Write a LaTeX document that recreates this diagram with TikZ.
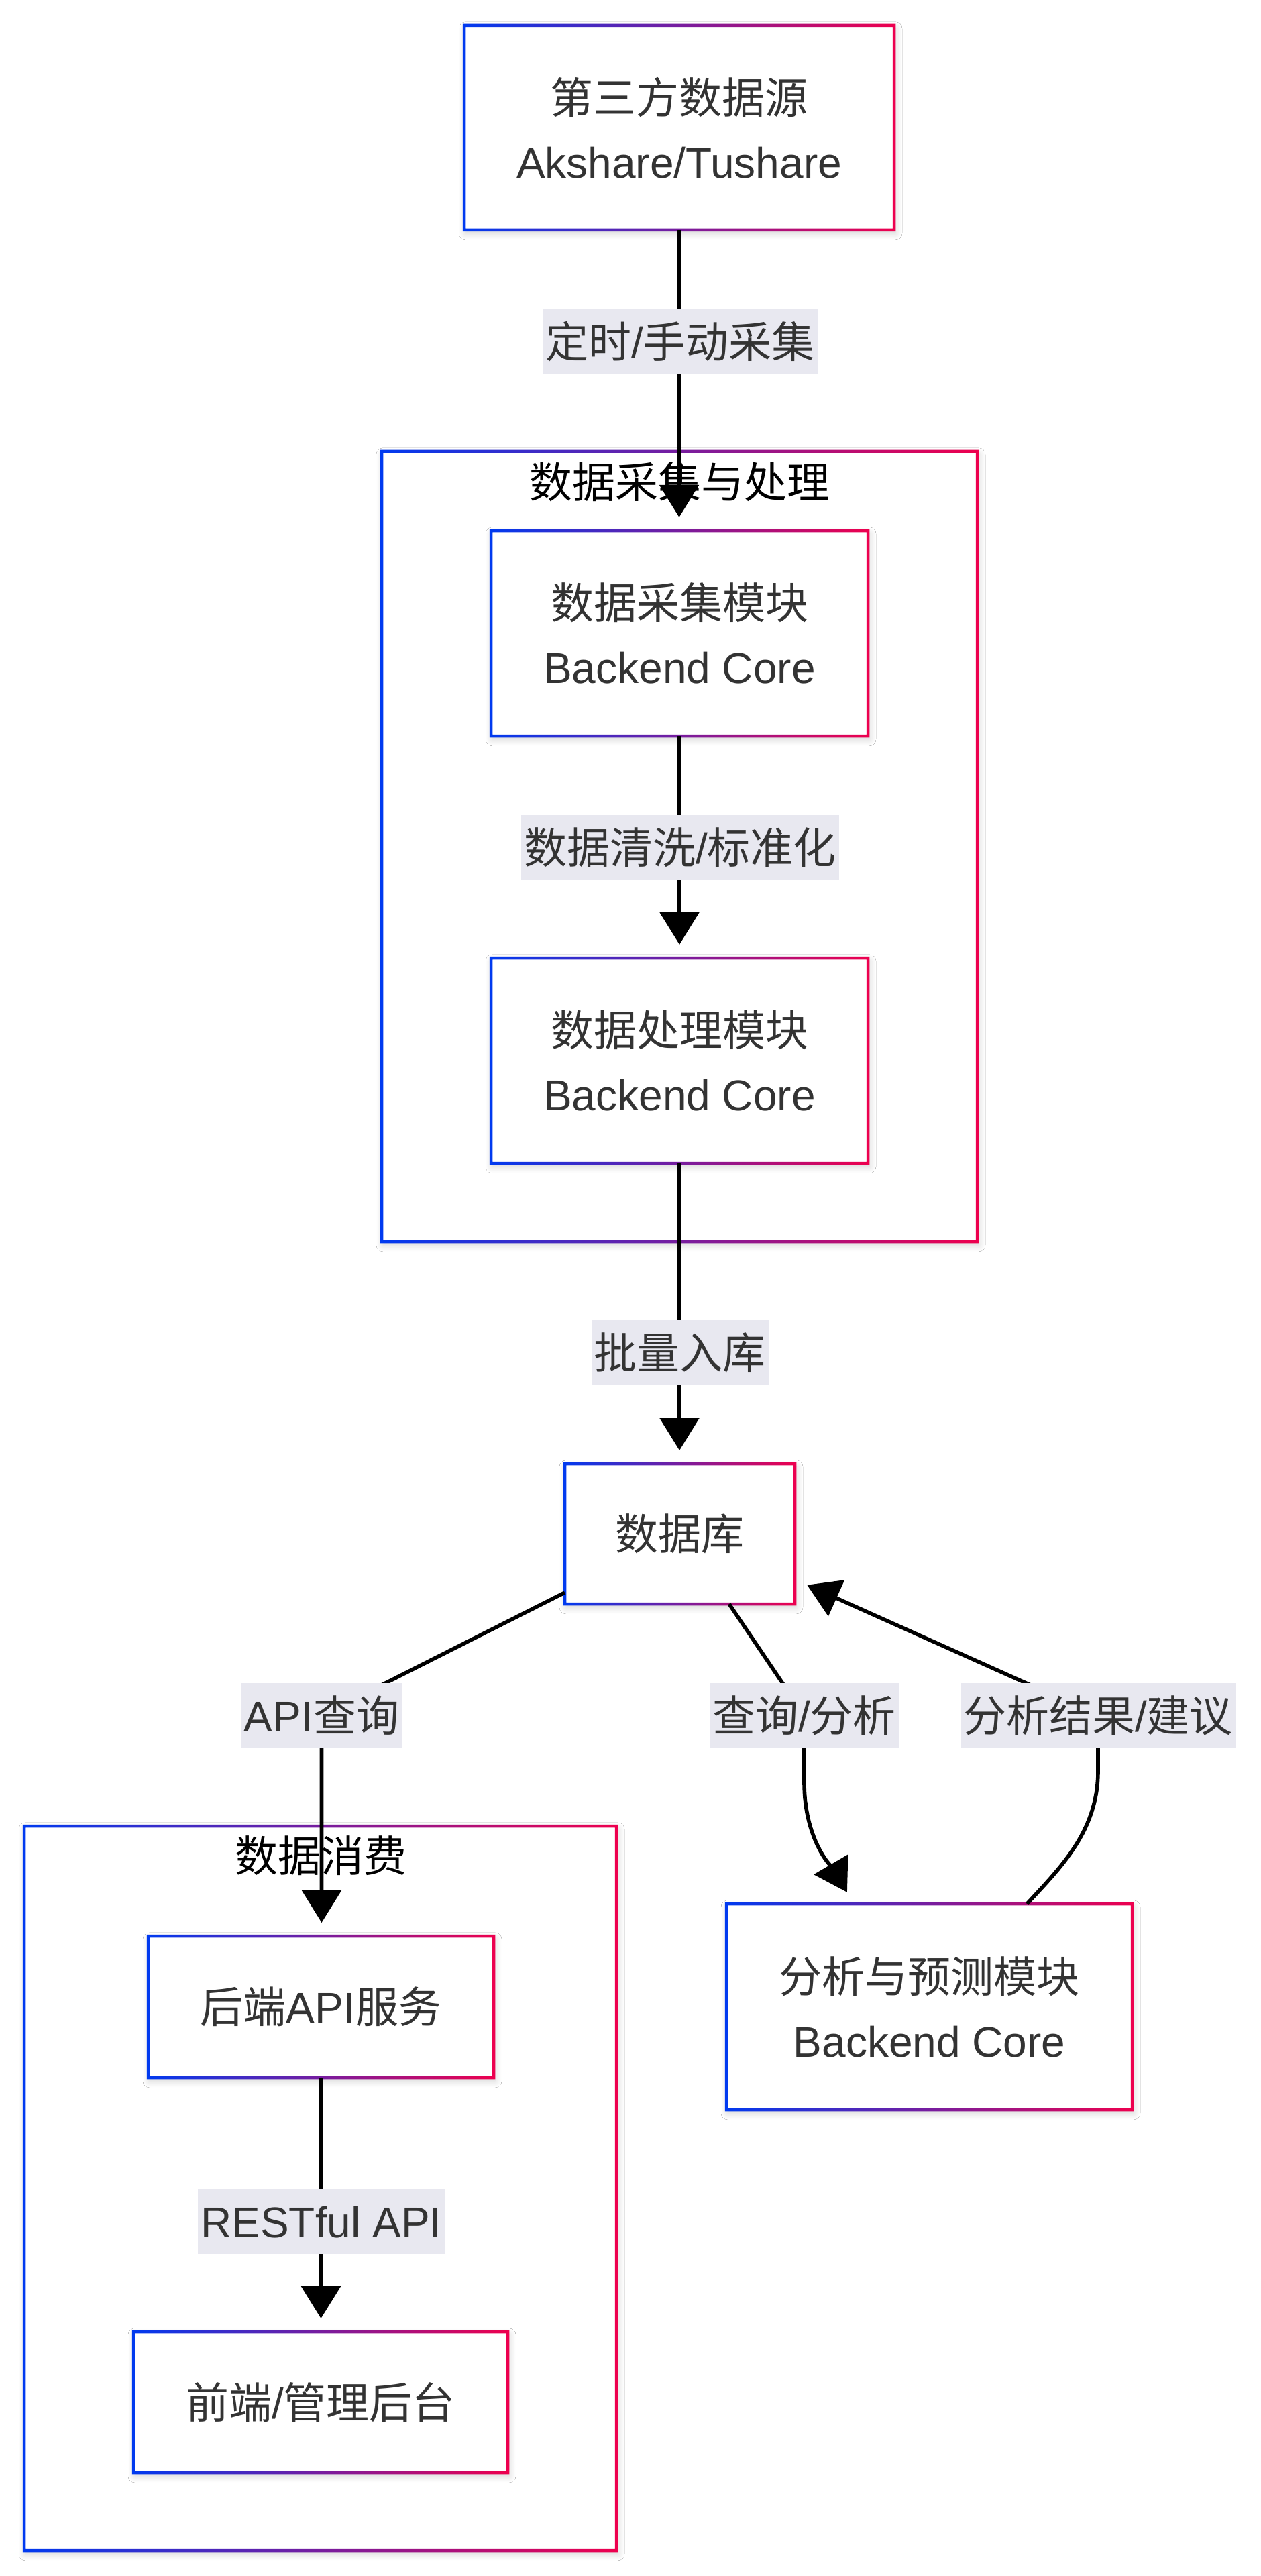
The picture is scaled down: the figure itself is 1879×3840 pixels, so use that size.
\documentclass[tikz,border=0pt]{standalone}
\usepackage{fontspec}
\setmainfont{Liberation Sans}
\newfontfamily\cjk{Noto Sans CJK SC}
\usetikzlibrary{arrows.meta,calc,shadows.blur}
\definecolor{gblue}{RGB}{0,58,240}
\definecolor{gred}{RGB}{238,0,78}
\definecolor{txt}{RGB}{51,51,51}
\definecolor{lblbg}{RGB}{232,232,240}
\tikzset{
  softshadow/.style={blur shadow={shadow xshift=0.5pt, shadow yshift=-1.2pt, shadow blur radius=2.5pt, shadow opacity=18, shadow blur steps=10}},
  box/.style={fill=white, draw=none, inner sep=0pt, outer sep=0pt, align=center, text=txt, font=\fontsize{16}{24}\selectfont, softshadow},
  grp/.style={fill=white, draw=none, inner sep=0pt, outer sep=0pt, softshadow},
  ttl/.style={text=black, font=\fontsize{16}{24}\selectfont, inner sep=0pt, text height=12pt, text depth=0pt},
  lbl/.style={fill=lblbg, text=txt, font=\fontsize{16}{24}\selectfont, inner xsep=1pt, inner ysep=0pt, minimum height=24.25pt, text height=12pt, text depth=0pt},
  arr/.style={line width=1.4pt, black, -{Triangle[length=12pt,width=14.5pt]}, shorten >=5pt},
}
\newcommand\gborder[1]{%
  \shade[left color=gblue,right color=gred,even odd rule]
    ($(#1.south west)+(-0.5625pt,-0.5625pt)$) rectangle ($(#1.north east)+(0.5625pt,0.5625pt)$)
    ($(#1.south west)+(0.5625pt,0.5625pt)$) rectangle ($(#1.north east)+(-0.5625pt,-0.5625pt)$);}
\begin{document}
\begin{tikzpicture}[x=0.25pt,y=-0.25pt]
\useasboundingbox[fill=white] (0,0) rectangle (1879,3840);
% groups
\node[grp, minimum width=222pt, minimum height=294.5pt] (G1) at (1013,1262) {};
\gborder{G1}
\node[ttl] (T1) at (1013,719) {\cjk 数据采集与处理};
\node[grp, minimum width=220.75pt, minimum height=270pt] (G2) at (477.5,3262) {};
\gborder{G2}
\node[ttl] (T2) at (478,2766) {\cjk 数据消费};
% nodes
\node[box, minimum width=160.25pt, minimum height=76.25pt] (A) at (1012.5,190.5) {{\cjk 第三方数据源}\\Akshare/Tushare};
\gborder{A}
\node[box, minimum width=140.5pt, minimum height=76.5pt] (B) at (1013,944) {{\cjk 数据采集模块}\\Backend Core};
\gborder{B}
\node[box, minimum width=140.5pt, minimum height=76.5pt] (C) at (1013,1581) {{\cjk 数据处理模块}\\Backend Core};
\gborder{C}
\node[box, minimum width=85.75pt, minimum height=52.25pt] (DB) at (1013.5,2286.5) {\cjk 数据库};
\gborder{DB}
\node[box, minimum width=128.75pt, minimum height=52.75pt] (E) at (478.5,2991.5) {{\cjk 后端}API{\cjk 服务}};
\gborder{E}
\node[box, minimum width=139.5pt, minimum height=52.5pt] (F) at (478,3581) {{\cjk 前端}/{\cjk 管理后台}};
\gborder{F}
\node[box, minimum width=151.25pt, minimum height=76.75pt] (D) at (1385.5,2991.5) {{\cjk 分析与预测模块}\\Backend Core};
\gborder{D}
% label positions
\coordinate (l1) at (1014,509.5);
\coordinate (l2) at (1014,1263);
\coordinate (l3) at (1013.5,2016.5);
\coordinate (l4) at (479.5,2557);
\coordinate (l5) at (1199,2557);
\coordinate (l6) at (1637,2557);
\coordinate (l7) at (479,3311);
% edges
\draw[arr] (A.south) -- (A.south |- B.north);
\draw[arr] (B.south) -- (C.north);
\draw[arr] (C.south) -- (C.south |- DB.north);
\draw[arr] ($(DB.south west)+(0,4.25pt)$) -- (l4) -- (l4 |- E.north);
\draw[arr] ($(DB.south)+(18.4pt,0)$) -- (l5) -- ($(l5)+(0,100)$) .. controls ($(l5)+(0,190)$) and (1245,2790) .. ($(D.north west)+(47.5pt,0)$);
\draw[arr] ($(D.north)+(36.4pt,0)$) .. controls (1580,2785) and (1637,2730) .. (1637,2640) -- (l6) -- ($(DB.east)+(0,-17pt)$);
\draw[arr] (E.south) -- (E.south |- F.north);
% labels
\node[lbl] (L1) at (l1) {{\cjk 定时}/{\cjk 手动采集}};
\node[lbl] (L2) at (l2) {{\cjk 数据清洗}/{\cjk 标准化}};
\node[lbl] (L3) at (l3) {\cjk 批量入库};
\node[lbl] (L4) at (l4) {API{\cjk 查询}};
\node[lbl] (L5) at (l5) {{\cjk 查询}/{\cjk 分析}};
\node[lbl] (L6) at (l6) {{\cjk 分析结果}/{\cjk 建议}};
\node[lbl] (L7) at (l7) {RESTful API};
\end{tikzpicture}
\end{document}
